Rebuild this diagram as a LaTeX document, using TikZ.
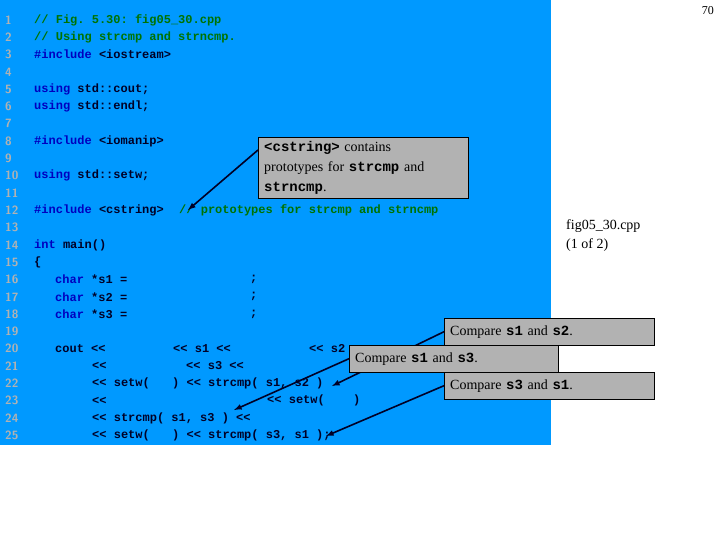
\documentclass[tikz,border=0pt]{standalone}
\usepackage{fontspec}
\setmainfont{Liberation Serif}
\setmonofont{Liberation Mono}
\begin{document}
\begin{tikzpicture}[x=1pt,y=-1pt,
  code/.style={anchor=west,inner sep=0pt,font=\ttfamily\bfseries\fontsize{12}{13}\selectfont,text=black!85!blue},
  kw/.style={code,text=blue!75!black},
  cmt/.style={code,text=green!45!black},
  ln/.style={anchor=west,inner sep=0pt,font=\sffamily\bfseries\fontsize{12}{13}\selectfont,text=gray!60},
  call/.style={draw=black,fill=gray!60,anchor=north west,inner sep=0pt,inner xsep=6pt,align=left,font=\fontsize{14}{19}\selectfont},
  arr/.style={-latex,line width=1.6pt,draw=black!85!blue}]
\useasboundingbox (0,0) rectangle (720,540);
\fill[white] (0,0) rectangle (720,540);
\fill[fill={rgb,255:red,0;green,153;blue,255}] (0,0) rectangle (551,445);
\foreach \n in {1,...,25} \node[ln] (l\n) at (5,{20+(\n-1)*17.3}) {\n};
\def\Y#1{{20+(#1-1)*17.3}}
\node[cmt] (c1) at (34,\Y1) {// Fig. 5.30: fig05\_30.cpp};
\node[cmt] (c2) at (34,\Y2) {// Using strcmp and strncmp.};
\node[kw] (c3) at (34,\Y3) {\#include \textcolor{black!85!blue}{<iostream>}};
\node[kw] (c5) at (34,\Y5) {using \textcolor{black!85!blue}{std::cout;}};
\node[kw] (c6) at (34,\Y6) {using \textcolor{black!85!blue}{std::endl;}};
\node[kw] (c8) at (34,\Y8) {\#include \textcolor{black!85!blue}{<iomanip>}};
\node[kw] (c10) at (34,\Y{10}) {using \textcolor{black!85!blue}{std::setw;}};
\node[kw] (c12) at (34,\Y{12}) {\#include \textcolor{black!85!blue}{<cstring>}};
\node[cmt] (c12b) at (179,\Y{12}) {// prototypes for strcmp and strncmp};
\node[kw] (c14) at (34,\Y{14}) {int \textcolor{black!85!blue}{main()}};
\node[code] (c15) at (34,\Y{15}) {\{};
\node[kw] (c16) at (55,\Y{16}) {char \textcolor{black!85!blue}{*s1 =}};
\node[kw] (c17) at (55,\Y{17}) {char \textcolor{black!85!blue}{*s2 =}};
\node[kw] (c18) at (55,\Y{18}) {char \textcolor{black!85!blue}{*s3 =}};
\node[code] (s16) at (250,\Y{16}) {;};
\node[code] (s17) at (250,\Y{17}) {;};
\node[code] (s18) at (250,\Y{18}) {;};
\node[code] (a20) at (55,\Y{20}) {cout <<};
\node[code] (b20) at (173,\Y{20}) {<< s1 <<};
\node[code] (d20) at (309,\Y{20}) {<< s2};
\node[code] (a21) at (92,\Y{21}) {<<};
\node[code] (b21) at (186,\Y{21}) {<< s3 <<};
\node[code] (a22) at (92,\Y{22}) {<< setw(};
\node[code] (b22) at (172,\Y{22}) {) << strcmp( s1, s2 )};
\node[code] (a23) at (92,\Y{23}) {<<};
\node[code] (b23) at (267,\Y{23}) {<< setw(};
\node[code] (d23) at (353,\Y{23}) {)};
\node[code] (a24) at (92,\Y{24}) {<< strcmp( s1, s3 ) <<};
\node[code] (a25) at (92,\Y{25}) {<< setw(};
\node[code] (b25) at (172,\Y{25}) {) << strcmp( s3, s1 );};
\node[anchor=north east,inner sep=0pt,font=\fontsize{12}{14}\selectfont] (pg) at (714,6) {70};
\node[anchor=north west,inner sep=0pt,align=left,font=\fontsize{14}{19}\selectfont] (fn) at (566,219) {fig05\_30.cpp\\(1 of 2)};
\node[call,text width=198pt,minimum height=61pt,font=\fontsize{14}{20}\selectfont] (k0) at (258,137) {{\ttfamily\bfseries<cstring>} contains\\prototypes for {\ttfamily\bfseries strcmp} and\\{\ttfamily\bfseries strncmp}.};
\coordinate (t0) at (188,210);
\draw[arr] (k0.west |- 0,150) -- (t0);
\node[call,text width=198pt,minimum height=27pt] (k1) at (444,318) {Compare {\ttfamily\bfseries s1} and {\ttfamily\bfseries s2}.};
\coordinate (t1) at (332,386);
\draw[arr] (k1.west) -- (t1);
\node[call,text width=197pt,minimum height=27pt] (k2) at (349,345) {Compare {\ttfamily\bfseries s1} and {\ttfamily\bfseries s3}.};
\coordinate (t2) at (234,410);
\draw[arr] (k2.west) -- (t2);
\node[call,text width=198pt,minimum height=27pt] (k3) at (444,372) {Compare {\ttfamily\bfseries s3} and {\ttfamily\bfseries s1}.};
\coordinate (t3) at (326,436);
\draw[arr] (k3.west) -- (t3);
\end{tikzpicture}
\end{document}
